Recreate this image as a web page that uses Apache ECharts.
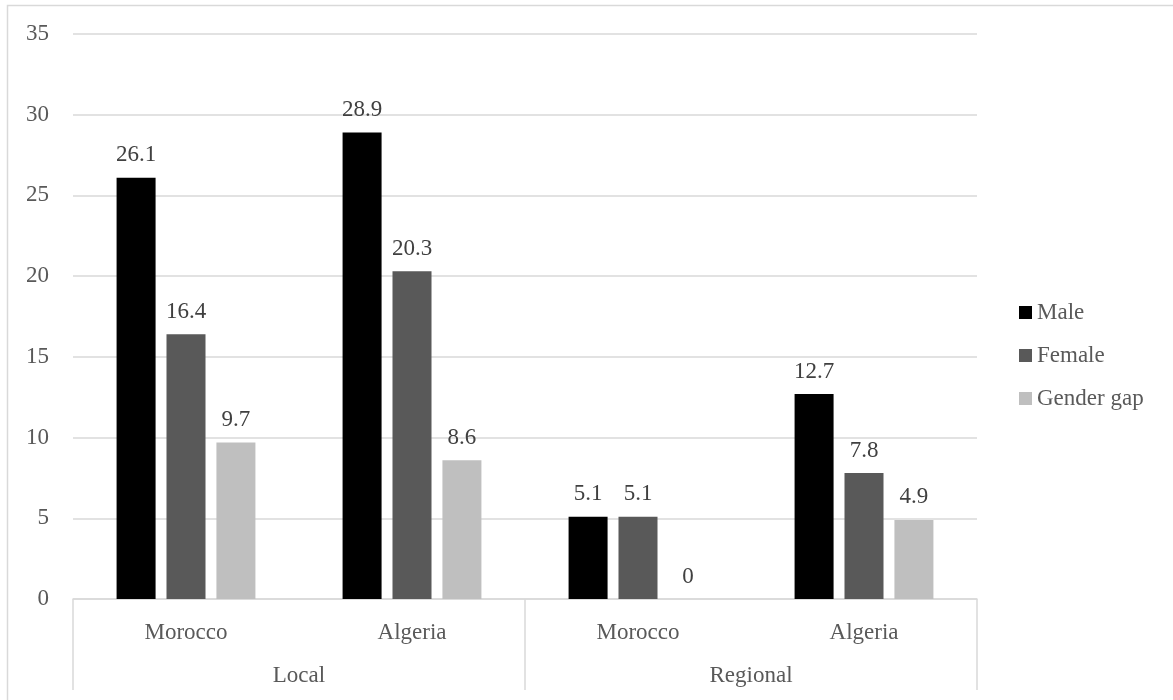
<!DOCTYPE html>
<html>
<head>
<meta charset="utf-8">
<script src="https://cdn.jsdelivr.net/npm/echarts@6/dist/echarts.min.js"></script>
<style>
  html, body { margin: 0; padding: 0; background: #fff; }
  #chart { width: 1173px; height: 700px; }
</style>
</head>
<body>
<div id="chart"></div>
<script>
// Sub-categories (countries) and their parent groups
const countries = ['Morocco', 'Algeria', 'Morocco', 'Algeria'];
const groups = ['Local', 'Regional'];

// Series values, one per country/group column
const male = [26.1, 28.9, 5.1, 12.7];
const female = [16.4, 20.3, 5.1, 7.8];
const genderGap = [9.7, 8.6, 0, 4.9];

const seriesNames = ['Male', 'Female', 'Gender gap'];
const seriesColors = ['#000000', '#595959', '#bfbfbf'];

// Value axis ticks
const yMin = 0, yMax = 35, yStep = 5;

const FONT = 'Liberation Serif';
const FS = 23;
const chart = echarts.init(document.getElementById('chart'));

const makeSeries = (name, data, color) => ({
  name: name,
  type: 'bar',
  data: data,
  barWidth: 39,
  barGap: '28%',
  itemStyle: { color: color },
  label: {
    show: true,
    position: 'top',
    distance: 11,
    color: '#404040',
    fontFamily: FONT,
    fontSize: FS
  }
});

chart.setOption({
  animation: false,
  backgroundColor: '#ffffff',
  textStyle: { fontFamily: FONT },
  graphic: [{
    type: 'rect',
    shape: { x: 7.5, y: 5.5, width: 1180, height: 710 },
    style: { fill: 'none', stroke: '#d9d9d9', lineWidth: 1.5 },
    silent: true,
    z: -10
  }],
  grid: { left: 73, right: 196, top: 34, bottom: 101 },
  legend: {
    orient: 'vertical',
    left: 1014,
    top: 296,
    itemWidth: 13,
    itemHeight: 13,
    itemGap: 20,
    icon: 'rect',
    textStyle: { color: '#595959', fontFamily: FONT, fontSize: FS },
    data: seriesNames
  },
  xAxis: [
    {
      type: 'category',
      data: countries,
      position: 'bottom',
      axisLine: { show: true, lineStyle: { color: '#d9d9d9', width: 1.5 } },
      axisTick: { show: false },
      axisLabel: { color: '#595959', fontFamily: FONT, fontSize: FS, margin: 22, interval: 0 },
      splitLine: { show: false }
    },
    {
      type: 'category',
      data: groups,
      position: 'bottom',
      axisLine: { show: false },
      axisTick: { show: true, length: 91, interval: 0, lineStyle: { color: '#d9d9d9', width: 1.5 } },
      axisLabel: { color: '#595959', fontFamily: FONT, fontSize: FS, margin: 65, interval: 0 },
      splitLine: { show: false }
    }
  ],
  yAxis: {
    type: 'value',
    min: yMin,
    max: yMax,
    interval: yStep,
    axisLine: { show: false },
    axisTick: { show: false },
    axisLabel: { color: '#595959', fontFamily: FONT, fontSize: FS, margin: 24 },
    splitLine: { lineStyle: { color: '#d9d9d9', width: 1.5 } }
  },
  series: [
    makeSeries(seriesNames[0], male, seriesColors[0]),
    makeSeries(seriesNames[1], female, seriesColors[1]),
    makeSeries(seriesNames[2], genderGap, seriesColors[2])
  ]
});
</script>
</body>
</html>
